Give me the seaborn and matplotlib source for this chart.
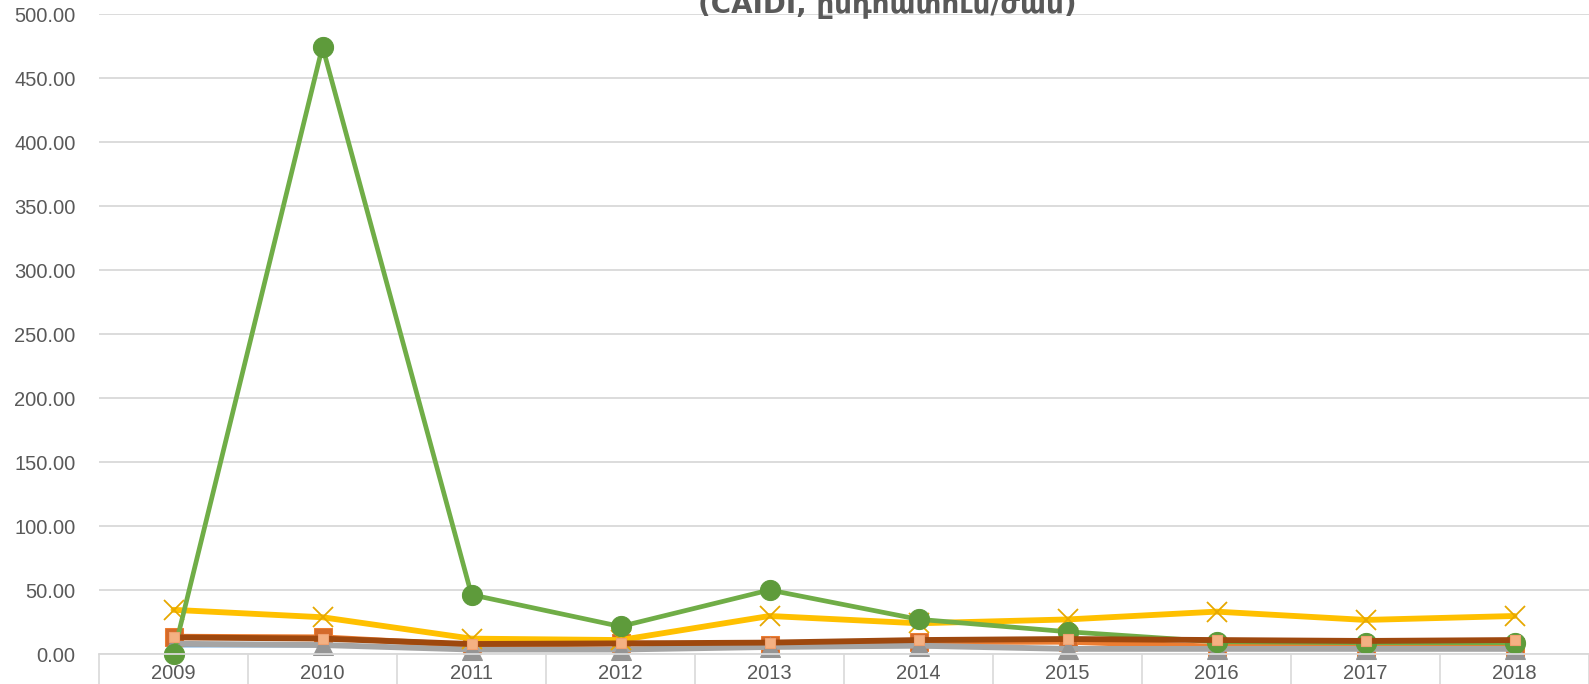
import numpy as np
import pandas as pd
import matplotlib
matplotlib.use("Agg")
import matplotlib.pyplot as plt
import seaborn as sns

# ---- data ----
years = ["2009", "2010", "2011", "2012", "2013", "2014", "2015", "2016", "2017", "2018"]
series_blue = [6.0, 6.0, 4.0, 4.5, 5.0, 5.5, 4.5, 4.0, 4.0, 4.0]
series_orange = [13.5, 13.0, 6.8, 8.3, 7.0, 9.4, 9.6, 5.7, 5.7, 5.7]
series_gray = [8.0, 7.0, 3.5, 3.5, 5.5, 6.5, 4.0, 4.0, 4.0, 4.0]
series_yellow = [34.5, 28.7, 12.0, 10.9, 29.7, 24.0, 27.0, 33.1, 26.6, 29.7]
series_green = [0.0, 474.5, 46.3, 21.5, 50.0, 27.1, 17.4, 9.6, 8.8, 8.8]
series_brown = [13.0, 12.0, 7.8, 8.3, 8.9, 10.9, 11.7, 10.9, 10.2, 10.9]
title_text = "(CAIDI, ընդհատում/ժամ)"
yticks = [0, 50, 100, 150, 200, 250, 300, 350, 400, 450, 500]

W, H, DPI = 1589, 684, 100
sns.set_theme(style="white")
plt.rcParams["font.family"] = ["Liberation Sans", "DejaVu Sans"]

fig = plt.figure(figsize=(W / DPI, H / DPI), dpi=DPI)
ax = fig.add_axes([99 / W, 1 - 654 / H, (W - 99) / W, (654 - 14) / H])

x = np.arange(len(years))

styles = [
    (series_blue, dict(color="#5B9BD5", linewidth=1.6, marker=None)),
    (series_orange, dict(color="#ED7D31", linewidth=4.2, marker="s", markersize=13,
                         markerfacecolor="#D46A2A", markeredgecolor="#ED7D31")),
    (series_gray, dict(color="#A5A5A5", linewidth=4.2, marker="^", markersize=14,
                       markerfacecolor="#959595", markeredgecolor="#959595")),
    (series_yellow, dict(color="#FFC000", linewidth=4.2, marker="x", markersize=14,
                         markeredgewidth=1.3, markeredgecolor="#E6A800")),
    (series_green, dict(color="#70AD47", linewidth=3.4, marker="o", markersize=14.5,
                        markerfacecolor="#5E9B3B", markeredgecolor="#5E9B3B")),
    (series_brown, dict(color="#9E480E", linewidth=4.2, marker="s", markersize=6.5,
                        markerfacecolor="#F4B183", markeredgecolor="#F0A070",
                        markeredgewidth=0.8)),
]

for vals, kw in styles:
    df = pd.DataFrame({"x": x, "y": vals})
    sns.lineplot(data=df, x="x", y="y", ax=ax, clip_on=False, **kw)

ax.set_xlim(-0.5, len(years) - 0.5)
ax.set_ylim(0, 500)
ax.set_yticks(yticks)
ax.set_yticklabels([f"{v:.2f}" for v in yticks], fontsize=14.5, color="#595959")
ax.tick_params(axis="y", length=0, pad=17, left=False)
ax.yaxis.grid(True, color="#D9D9D9", linewidth=1.3)
ax.set_axisbelow(True)

ax.set_xticks(np.arange(-0.5, len(years), 1.0))
ax.set_xticklabels([])
ax.set_xticks(x, minor=True)
ax.set_xticklabels(years, minor=True, fontsize=14.5, color="#595959")
ax.tick_params(axis="x", which="major", bottom=True, length=24, width=1.2,
               color="#D9D9D9", direction="out")
ax.tick_params(axis="x", which="minor", bottom=True, length=0, pad=7)

for s in ["top", "right", "left"]:
    ax.spines[s].set_visible(False)
ax.spines["bottom"].set_color("#D9D9D9")
ax.spines["bottom"].set_linewidth(1.3)
ax.set_xlabel("")
ax.set_ylabel("")

fig.text(887 / W, 1 - 13 / H, title_text, ha="center", va="baseline",
         fontsize=20, fontweight="bold", color="#595959", family=["DejaVu Sans"])

fig.savefig("out.png", dpi=DPI, facecolor="white")
